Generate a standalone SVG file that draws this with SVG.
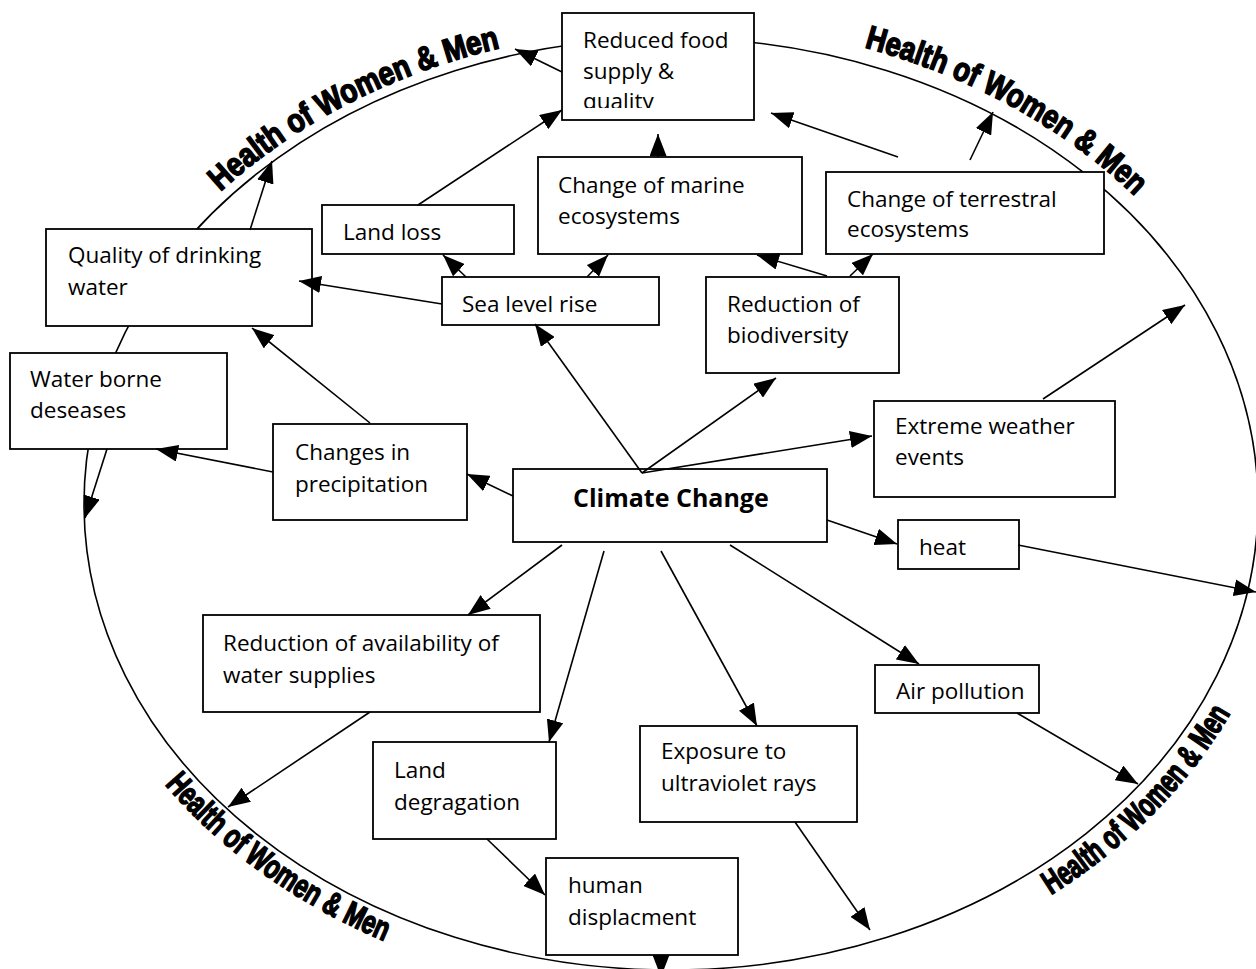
<svg xmlns="http://www.w3.org/2000/svg" width="1256" height="969" viewBox="0 0 1256 969">
<style>
.box{fill:#fff;stroke:#000;stroke-width:1.8}
.t{font-family:"Open Sans","Noto Sans","Liberation Sans",sans-serif;font-size:22.5px;fill:#000}
.tb{font-family:"Open Sans","Noto Sans","Liberation Sans",sans-serif;font-size:25px;font-weight:bold;fill:#000}
.c{fill:none;stroke:#000;stroke-width:1.6;marker-end:url(#ah)}
.hl{font-family:"Liberation Sans","Arial",sans-serif;font-size:33px;font-weight:bold;fill:#000;stroke:#000;stroke-width:1.6}
</style>
<defs>
<marker id="ah" viewBox="0 0 22 17" refX="22" refY="8.5" markerWidth="22" markerHeight="17" markerUnits="userSpaceOnUse" orient="auto">
<path d="M0,0 L22,8.5 L0,17 Z" fill="#000"/>
</marker>
<clipPath id="clipFood"><rect x="562" y="13" width="192" height="95"/></clipPath>
<path id="pTL" d="M220.4,191.7 A597,476 0 0 1 587.9,32.6"/>
<path id="pTR" d="M864.3,47.4 A603,482 0 0 1 1193.2,263"/>
<path id="pBL" d="M164.8,784.5 A615,494 0 0 0 564.2,990.5"/>
<path id="pBR" d="M1050.9,894.9 A617,496 0 0 0 1278.6,590.1"/>
</defs>
<rect width="1256" height="969" fill="#fff"/>
<g id="health-circle">
<ellipse cx="671" cy="504" rx="587" ry="466" fill="none" stroke="#000" stroke-width="1.6"/>
<text class="hl"><textPath href="#pTL" textLength="318" lengthAdjust="spacingAndGlyphs">Health of Women &amp; Men</textPath></text>
<text class="hl"><textPath href="#pTR" textLength="312" lengthAdjust="spacingAndGlyphs">Health of Women &amp; Men</textPath></text>
<text class="hl"><textPath href="#pBL" textLength="272" lengthAdjust="spacingAndGlyphs">Health of Women &amp; Men</textPath></text>
<text class="hl"><textPath href="#pBR" textLength="258" lengthAdjust="spacingAndGlyphs">Health of Women &amp; Men</textPath></text>
</g>
<g id="n-food"><rect class="box" x="562" y="13" width="192" height="107"/>
<g clip-path="url(#clipFood)"><text class="t" x="583" y="48">Reduced food</text><text class="t" x="583" y="79">supply &amp;</text><text class="t" x="583" y="109">quality</text></g></g>
<g id="n-landloss"><rect class="box" x="322" y="205" width="192" height="49"/><text class="t" x="343" y="240">Land loss</text></g>
<g id="n-marine"><rect class="box" x="538" y="157" width="264" height="97"/><text class="t" x="558" y="193">Change of marine</text><text class="t" x="558" y="224">ecosystems</text></g>
<g id="n-sealevel"><rect class="box" x="442" y="277" width="217" height="48"/><text class="t" x="462" y="312">Sea level rise</text></g>
<g id="n-terrestral"><rect class="box" x="826" y="172" width="278" height="82"/><text class="t" x="847" y="207">Change of terrestral</text><text class="t" x="847" y="237">ecosystems</text></g>
<g id="n-biodiversity"><rect class="box" x="706" y="277" width="193" height="96"/><text class="t" x="727" y="312">Reduction of</text><text class="t" x="727" y="343">biodiversity</text></g>
<g id="n-drinking"><rect class="box" x="46" y="229" width="266" height="97"/><text class="t" x="68" y="263">Quality of drinking</text><text class="t" x="68" y="295">water</text></g>
<g id="n-waterborne"><rect class="box" x="10" y="353" width="217" height="96"/><text class="t" x="30" y="387">Water borne</text><text class="t" x="30" y="418">deseases</text></g>
<g id="n-precip"><rect class="box" x="273" y="424" width="194" height="96"/><text class="t" x="295" y="460">Changes in</text><text class="t" x="295" y="492">precipitation</text></g>
<g id="n-climate"><rect class="box" x="513" y="469" width="314" height="73"/><text class="tb" x="573" y="507">Climate Change</text></g>
<g id="n-extreme"><rect class="box" x="874" y="401" width="241" height="96"/><text class="t" x="895" y="434">Extreme weather</text><text class="t" x="895" y="465">events</text></g>
<g id="n-heat"><rect class="box" x="898" y="520" width="121" height="49"/><text class="t" x="919" y="555">heat</text></g>
<g id="n-watersupply"><rect class="box" x="203" y="615" width="337" height="97"/><text class="t" x="223" y="651">Reduction of availability of</text><text class="t" x="223" y="683">water supplies</text></g>
<g id="n-air"><rect class="box" x="875" y="665" width="164" height="48"/><text class="t" x="896" y="699">Air pollution</text></g>
<g id="n-landdeg"><rect class="box" x="373" y="742" width="183" height="97"/><text class="t" x="394" y="778">Land</text><text class="t" x="394" y="810">degragation</text></g>
<g id="n-uv"><rect class="box" x="640" y="726" width="217" height="96"/><text class="t" x="661" y="759">Exposure to</text><text class="t" x="661" y="791">ultraviolet rays</text></g>
<g id="n-displacement"><rect class="box" x="546" y="858" width="192" height="97"/><text class="t" x="568" y="893">human</text><text class="t" x="568" y="925">displacment</text></g>
<g id="connectors">
<line class="c" x1="562" y1="72" x2="515" y2="49"/>
<line class="c" x1="418" y1="205" x2="562" y2="110"/>
<line class="c" x1="250" y1="230" x2="272" y2="161"/>
<line class="c" x1="442" y1="304" x2="299" y2="281"/>
<line class="c" x1="466" y1="277" x2="443" y2="255"/>
<line class="c" x1="587" y1="277" x2="608" y2="255"/>
<line class="c" x1="642" y1="473" x2="535" y2="324"/>
<line class="c" x1="642" y1="473" x2="776" y2="378"/>
<line class="c" x1="642" y1="473" x2="872" y2="436"/>
<line class="c" x1="513" y1="496" x2="467" y2="474"/>
<line class="c" x1="370" y1="423" x2="252" y2="328"/>
<line class="c" x1="273" y1="472" x2="156" y2="449"/>
<line class="c" x1="107" y1="449" x2="85" y2="518"/>
<line class="c" x1="827" y1="520" x2="897" y2="544"/>
<line class="c" x1="1018" y1="545" x2="1256" y2="592"/>
<line class="c" x1="1043" y1="399" x2="1185" y2="305"/>
<line class="c" x1="730" y1="545" x2="919" y2="664"/>
<line class="c" x1="661" y1="551" x2="757" y2="726"/>
<line class="c" x1="604" y1="551" x2="549" y2="742"/>
<line class="c" x1="562" y1="545" x2="468" y2="615"/>
<line class="c" x1="370" y1="712" x2="228" y2="807"/>
<line class="c" x1="487" y1="839" x2="545" y2="895"/>
<line class="c" x1="661" y1="955" x2="661" y2="977"/>
<line class="c" x1="795" y1="822" x2="870" y2="930"/>
<line class="c" x1="1017" y1="713" x2="1138" y2="784"/>
<line class="c" x1="658" y1="157" x2="658" y2="134"/>
<line class="c" x1="827" y1="276" x2="757" y2="255"/>
<line class="c" x1="850" y1="276" x2="873" y2="254"/>
<line class="c" x1="970" y1="160" x2="993" y2="112"/>
<line class="c" x1="898" y1="157" x2="771" y2="113"/>
</g>
</svg>
